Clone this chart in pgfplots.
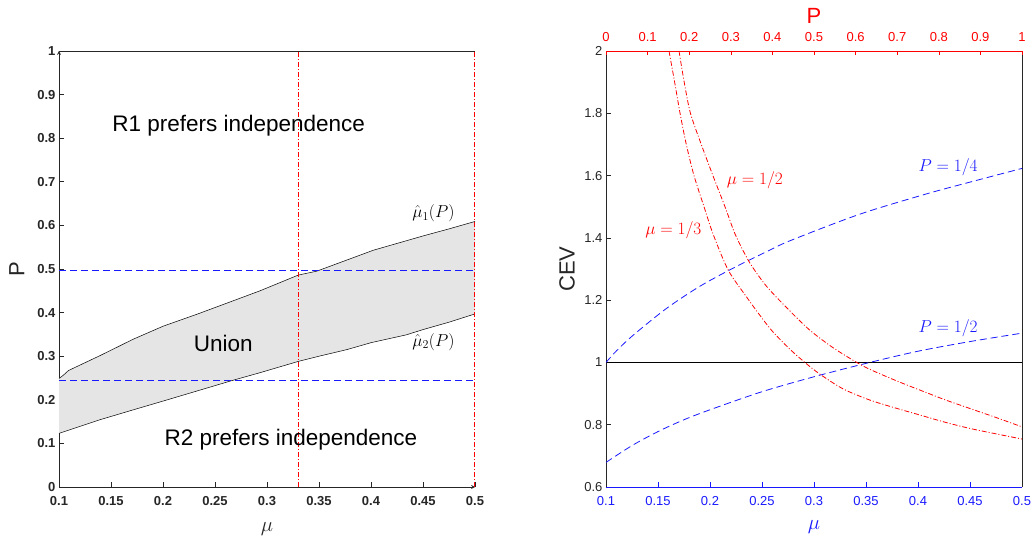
\documentclass[border=0pt]{standalone}
\usepackage{pgfplots}
\pgfplotsset{compat=1.18}
\usepackage{pgfplotstable}
\usepackage{fontspec}
\setmainfont{Liberation Sans}
\definecolor{mgray}{rgb}{0.15,0.15,0.15}
\definecolor{fillg}{rgb}{0.9,0.9,0.9}
\definecolor{mblue}{rgb}{0.1,0.1,1}
\definecolor{mred}{rgb}{1,0,0}

% left panel: boundaries of the union region
\pgfplotstableread{
x y
0.100 0.249
0.104 0.256
0.109 0.267
0.140 0.302
0.1714 0.339
0.2003 0.369
0.2324 0.396
0.2640 0.424
0.2933 0.450
0.330 0.486
0.3478 0.495
0.375 0.519
0.4022 0.543
0.4503 0.576
0.475 0.592
0.500 0.609
}\upperB
\pgfplotstableread{
x y
0.100 0.123
0.110 0.131
0.139 0.154
0.170 0.176
0.2035 0.1995
0.2676 0.245
0.293 0.262
0.330 0.288
0.350 0.300
0.3766 0.315
0.400 0.331
0.434 0.349
0.450 0.361
0.475 0.378
0.500 0.397
}\lowerB
% region between the two boundaries (upper left to right, lower right to left)
\pgfplotstableread{
x y
0.100 0.249
0.104 0.256
0.109 0.267
0.140 0.302
0.1714 0.339
0.2003 0.369
0.2324 0.396
0.2640 0.424
0.2933 0.450
0.330 0.486
0.3478 0.495
0.375 0.519
0.4022 0.543
0.4503 0.576
0.475 0.592
0.500 0.609
0.500 0.397
0.475 0.378
0.450 0.361
0.434 0.349
0.400 0.331
0.3766 0.315
0.350 0.300
0.330 0.288
0.293 0.262
0.2676 0.245
0.2035 0.1995
0.170 0.176
0.139 0.154
0.110 0.131
0.100 0.123
}\regionB

% right panel: CEV vs mu
\pgfplotstableread{
x y
0.100 1.000
0.110 1.037
0.126 1.087
0.158 1.173
0.190 1.244
0.2224 1.303
0.2577 1.361
0.2786 1.393
0.344 1.476
0.408 1.541
0.450 1.579
0.500 1.623
}\Pquarter
\pgfplotstableread{
x y
0.100 0.679
0.125 0.733
0.150 0.778
0.175 0.816
0.200 0.848
0.250 0.906
0.300 0.954
0.350 0.997
0.400 1.036
0.450 1.067
0.500 1.094
}\Phalf
% CEV vs P
\pgfplotstableread{
x y
0.1514 2.0
0.165 1.9
0.178 1.8
0.193 1.7
0.2115 1.6
0.2356 1.5
0.258 1.41
0.294 1.296
0.338 1.21
0.370 1.151
0.400 1.100
0.440 1.045
0.478 1.000
0.514 0.9625
0.570 0.915
0.6346 0.879
0.700 0.852
0.755 0.831
0.815 0.808
0.875 0.788
0.940 0.770
1.000 0.754
}\muthird
\pgfplotstableread{
x y
0.1755 2.0
0.188 1.9
0.203 1.8
0.229 1.7
0.257 1.6
0.286 1.5
0.311 1.41
0.342 1.328
0.370 1.272
0.394 1.232
0.440 1.168
0.490 1.1035
0.545 1.048
0.6026 1.000
0.6346 0.9775
0.700 0.940
0.755 0.911
0.815 0.880
0.875 0.852
0.940 0.822
1.000 0.793
}\muhalf

\pgfplotsset{
  mystyle/.style={
    scale only axis, width=416pt, height=436pt, anchor=south west,
    /pgf/number format/assume math mode=true,
    tick label style={font=\fontsize{13}{15}\selectfont, mgray},
    major tick length=4.5pt,
    tick style={mgray, line width=0.6pt},
    axis line style={-, mgray, line width=0.7pt},
  },
  bdash/.style={mblue, line width=0.8pt, dash pattern=on 7pt off 4pt},
  rdd/.style={mred, line width=0.8pt, dash pattern=on 5pt off 2pt on 1pt off 2pt},
}

\begin{document}
\begin{tikzpicture}
\path[use as bounding box] (0pt,0pt) rectangle (1031pt,541pt);

% ---------------- left panel ----------------
\begin{axis}[mystyle, at={(59pt,54pt)},
  xmin=0.1, xmax=0.5, ymin=0, ymax=1,
  xtick={0.1,0.15,0.2,0.25,0.3,0.35,0.4,0.45,0.5},
  ytick={0,0.1,0.2,0.3,0.4,0.5,0.6,0.7,0.8,0.9,1},
  axis x line=bottom, axis y line=left,
  xtick pos=left, ytick pos=left,
  tick align=inside,
  clip=false,
  tick label style={font=\fontsize{13}{15}\selectfont\bfseries, mgray},
  x tick label style={yshift=-6pt},
  xlabel={$\mu$}, ylabel={P},
  every axis x label/.style={at={(axis description cs:0.5,-0.0963)}, anchor=center, font=\fontsize{22}{26}\selectfont, mgray},
  every axis y label/.style={at={(axis description cs:-0.1017,0.5)}, anchor=center, rotate=90, font=\fontsize{22}{26}\selectfont, mgray},
]
\addplot[fill=fillg, draw=none] table[x=x,y=y] {\regionB};
\addplot[black, line width=0.5pt] table[x=x,y=y] {\upperB};
\addplot[black, line width=0.5pt] table[x=x,y=y] {\lowerB};
\addplot[bdash] coordinates {(0.1,0.496) (0.5,0.496)};
\addplot[bdash] coordinates {(0.1,0.245) (0.5,0.245)};
\draw[mgray, line width=0.7pt] (rel axis cs:0,1) -- (rel axis cs:1,1);
\addplot[rdd] coordinates {(0.33,0) (0.33,1)};
\addplot[rdd, line width=1.1pt] coordinates {(0.4995,0) (0.4995,1)};
\node[font=\fontsize{22.5}{27}\selectfont] at (axis cs:0.2728,0.828) {R1 prefers independence};
\node[font=\fontsize{22.5}{27}\selectfont] at (axis cs:0.323,0.108) {R2 prefers independence};
\node[font=\fontsize{22.5}{27}\selectfont] at (axis cs:0.258,0.330) {Union};
\node[font=\fontsize{18}{22}\selectfont] at (axis cs:0.46,0.628) {$\hat\mu_1(P)$};
\node[font=\fontsize{18}{22}\selectfont] at (axis cs:0.46,0.333) {$\hat\mu_2(P)$};
\end{axis}

% ---------------- right panel: mu axis ----------------
\begin{axis}[mystyle, at={(606pt,54pt)},
  xmin=0.1, xmax=0.5, ymin=0.6, ymax=2,
  xtick={0.1,0.15,0.2,0.25,0.3,0.35,0.4,0.45,0.5},
  ytick={0.6,0.8,1,1.2,1.4,1.6,1.8,2},
  axis x line=bottom, axis y line=box,
  xtick pos=left, ytick pos=left,
  tick align=inside,
  x axis line style={-, mblue, line width=0.8pt},
  x tick style={mblue},
  x tick label style={mblue, yshift=-6pt},
  xlabel={$\mu$}, ylabel={CEV},
  every axis x label/.style={at={(axis description cs:0.5,-0.0917)}, anchor=center, font=\fontsize{22}{26}\selectfont, mblue},
  every axis y label/.style={at={(axis description cs:-0.0938,0.5)}, anchor=center, rotate=90, font=\fontsize{22}{26}\selectfont, mgray},
]
\addplot[black, line width=0.8pt] coordinates {(0.1,1) (0.5,1)};
\addplot[bdash, smooth] table[x=x,y=y] {\Pquarter};
\addplot[bdash, smooth] table[x=x,y=y] {\Phalf};
\node[mblue, font=\fontsize{18}{22}\selectfont] at (axis cs:0.429,1.626) {$P=1/4$};
\node[mblue, font=\fontsize{18}{22}\selectfont] at (axis cs:0.429,1.109) {$P=1/2$};
\end{axis}

% ---------------- right panel: P axis ----------------
\begin{axis}[mystyle, at={(606pt,54pt)},
  xmin=0, xmax=1, ymin=0.6, ymax=2,
  xtick={0,0.1,0.2,0.3,0.4,0.5,0.6,0.7,0.8,0.9,1},
  ytick=\empty,
  axis x line=top, axis y line=none,
  xtick pos=right, xticklabel pos=right,
  tick align=inside,
  x axis line style={-, mred, line width=0.8pt},
  x tick style={mred},
  x tick label style={mred, yshift=6pt},
  xlabel={P},
  every axis x label/.style={at={(axis description cs:0.5,1.0803)}, anchor=center, font=\fontsize{22}{26}\selectfont, mred},
]
\addplot[rdd, smooth] table[x=x,y=y] {\muthird};
\addplot[rdd, smooth] table[x=x,y=y] {\muhalf};
\node[mred, font=\fontsize{18}{22}\selectfont] at (axis cs:0.358,1.584) {$\mu=1/2$};
\node[mred, font=\fontsize{18}{22}\selectfont] at (axis cs:0.162,1.424) {$\mu=1/3$};
\end{axis}
\end{tikzpicture}
\end{document}
